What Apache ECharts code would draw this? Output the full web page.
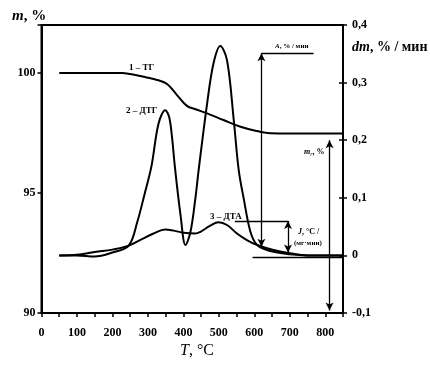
<!DOCTYPE html>
<html><head><meta charset="utf-8">
<script src="https://cdn.jsdelivr.net/npm/echarts@6/dist/echarts.min.js"></script>
<style>html,body{margin:0;padding:0;background:#fff}#c{width:430px;height:368px}</style>
</head><body><div id="c"></div>
<script>
// TG curve (left axis, m %)
const tgT = [50, 100, 150, 200, 227, 250, 279, 300, 326, 354, 382, 410, 434, 467, 513, 561, 608, 645, 700, 750, 800, 850];
const tgM = [100, 100, 100, 100, 100, 99.96, 99.875, 99.8, 99.71, 99.54, 99.08, 98.63, 98.49, 98.32, 98.04, 97.76, 97.58, 97.49, 97.48, 97.48, 97.48, 97.48];
// DTG curve (right axis, dm %/min)
const dtgT = [50, 100, 150, 200, 246, 270, 290, 310, 330, 349, 360, 368, 376, 392, 406, 420, 434, 443, 467, 485, 504, 523, 542, 556, 570, 589, 608, 645, 700, 750, 800, 850];
const dtgV = [0, 0, -0.002, 0.005, 0.017, 0.058, 0.105, 0.155, 0.229, 0.252, 0.24, 0.205, 0.154, 0.07, 0.018, 0.041, 0.1, 0.148, 0.264, 0.3335, 0.3635, 0.339, 0.235, 0.148, 0.099, 0.041, 0.018, 0.0076, 0.002, 0, 0, 0];
// DTA curve (right axis scale)
const dtaT = [50, 100, 150, 200, 246, 279, 316, 349, 373, 401, 434, 448, 476, 499, 523, 551, 579, 608, 654, 701, 750, 800, 850];
const dtaV = [0, 0.001, 0.006, 0.010, 0.017, 0.027, 0.038, 0.045, 0.043, 0.0394, 0.038, 0.041, 0.0516, 0.0575, 0.0528, 0.038, 0.0267, 0.018, 0.0094, 0.0036, 0, 0, 0];
// Axis ticks
const xTicks = [0, 100, 200, 300, 400, 500, 600, 700, 800];
const leftTicks = [90, 95, 100];
const rightTicks = [-0.1, 0, 0.1, 0.2, 0.3, 0.4];
// Annotation geometry in data units
const arrowA = [620, 0.351, 0.015];      // T, top dm, bottom dm
const lineA = [620, 767, 0.351];         // T from, T to, dm
const arrowJ = [695, 0.0597, 0.005];
const lineJ = [545, 695, 0.0597];
const baseLine = [595, 850, -0.003];
const arrowMr = [812, 97.2, 90.1];       // T, top m, bottom m

const pairs = (xs, ys) => xs.map((x, i) => [x, ys[i]]);
const F = 'Liberation Serif, Times New Roman, serif';

const chart = echarts.init(document.getElementById('c'));
const blackLine = {color: '#000', width: 2};
const thin = {color: '#000', width: 1.3, type: 'solid'};
chart.setOption({
  animation: false,
  grid: {left: 41.5, right: 87, top: 25, bottom: 55, show: true, borderColor: '#000', borderWidth: 2},
  xAxis: {
    type: 'value', min: 0, max: 850, interval: 50,
    axisLine: {onZero: false, lineStyle: {color: '#000', width: 2}},
    axisTick: {length: 4, lineStyle: {color: '#000', width: 1.5}},
    splitLine: {show: false},
    axisLabel: {margin: 14, color: '#000', fontFamily: F, fontWeight: 'bold', fontSize: 12,
      formatter: v => xTicks.includes(v) ? String(v) : ''}
  },
  yAxis: [{
    type: 'value', min: 90, max: 102, interval: 5,
    axisLine: {show: true, onZero: false, lineStyle: {color: '#000', width: 2}},
    axisTick: {show: true, length: 4, lineStyle: {color: '#000', width: 1.5}},
    splitLine: {show: false},
    axisLabel: {margin: 6, color: '#000', fontFamily: F, fontWeight: 'bold', fontSize: 12,
      formatter: v => leftTicks.includes(v) ? String(v) : ''}
  }, {
    type: 'value', min: -0.1, max: 0.4, interval: 0.1, position: 'right',
    axisLine: {show: true, onZero: false, lineStyle: {color: '#000', width: 2}},
    axisTick: {show: true, length: 4, lineStyle: {color: '#000', width: 1.5}},
    splitLine: {show: false},
    axisLabel: {margin: 9, color: '#000', fontFamily: F, fontWeight: 'bold', fontSize: 12,
      formatter: v => { const r = Math.round(v * 10) / 10; return rightTicks.includes(r) ? String(r).replace('.', ',') : ''; }}
  }, {
    type: 'value', min: -0.1, max: 0.4, interval: 0.1, position: 'right',
    axisLine: {show: false, onZero: false},
    axisTick: {show: true, inside: true, length: 4, lineStyle: {color: '#000', width: 1.5}},
    splitLine: {show: false}, axisLabel: {show: false}
  }],
  series: [{
    type: 'line', yAxisIndex: 0, data: pairs(tgT, tgM), smooth: 0.4, showSymbol: false, lineStyle: blackLine,
    markLine: {silent: true, animation: false, lineStyle: thin, label: {show: false},
      symbol: ['arrow', 'arrow'], symbolSize: [6, 8],
      data: [[{coord: [arrowMr[0], arrowMr[1]]}, {coord: [arrowMr[0], arrowMr[2]]}]]}
  }, {
    type: 'line', yAxisIndex: 1, data: pairs(dtgT, dtgV), smooth: 0.35, showSymbol: false, lineStyle: blackLine,
    markLine: {silent: true, animation: false, lineStyle: thin, label: {show: false},
      symbol: ['arrow', 'arrow'], symbolSize: [6, 8],
      data: [
        [{coord: [arrowA[0], arrowA[1]]}, {coord: [arrowA[0], arrowA[2]]}],
        [{coord: [arrowJ[0], arrowJ[1]]}, {coord: [arrowJ[0], arrowJ[2]]}],
        [{coord: [lineA[0], lineA[2]], symbol: 'none'}, {coord: [lineA[1], lineA[2]], symbol: 'none'}],
        [{coord: [lineJ[0], lineJ[2]], symbol: 'none'}, {coord: [lineJ[1], lineJ[2]], symbol: 'none'}],
        [{coord: [baseLine[0], baseLine[2]], symbol: 'none'}, {coord: [baseLine[1], baseLine[2]], symbol: 'none'}]
      ]}
  }, {
    type: 'line', yAxisIndex: 1, data: pairs(dtaT, dtaV), smooth: 0.4, showSymbol: false, lineStyle: blackLine
  }],
  graphic: [
    {type: 'text', left: 12, top: 9, style: {text: '{i|m}, %', font: 'bold 15px ' + F, fill: '#000',
      rich: {i: {fontStyle: 'italic', fontWeight: 'bold', fontSize: 15, fontFamily: F}}}},
    {type: 'text', left: 352, top: 40, style: {text: '{i|dm}, % / мин', font: 'bold 14px ' + F, fill: '#000',
      rich: {i: {fontStyle: 'italic', fontWeight: 'bold', fontSize: 14, fontFamily: F}}}},
    {type: 'text', left: 180, top: 343, style: {text: '{i|T}, °C', font: '16px ' + F, fill: '#000',
      rich: {i: {fontStyle: 'italic', fontSize: 16, fontFamily: F}}}},
    {type: 'text', left: 129, top: 63, style: {text: '1 – ТГ', font: 'bold 9px ' + F, fill: '#000'}},
    {type: 'text', left: 126, top: 106, style: {text: '2 – ДТГ', font: 'bold 9px ' + F, fill: '#000'}},
    {type: 'text', left: 210, top: 212, style: {text: '3 – ДТА', font: 'bold 9px ' + F, fill: '#000'}},
    {type: 'text', left: 275, top: 43, style: {text: '{i|A}, % / мин', font: 'bold 7px ' + F, fill: '#000',
      rich: {i: {fontStyle: 'italic', fontWeight: 'bold', fontSize: 7, fontFamily: F}}}},
    {type: 'text', left: 298, top: 228, style: {text: '{i|J}, °C /', font: 'bold 8px ' + F, fill: '#000',
      rich: {i: {fontStyle: 'italic', fontWeight: 'bold', fontSize: 8, fontFamily: F}}}},
    {type: 'text', left: 294, top: 240, style: {text: '(мг·мин)', font: 'bold 7px ' + F, fill: '#000'}},
    {type: 'text', left: 304, top: 148, style: {text: '{i|m}{s|r}, %', font: 'bold 8px ' + F, fill: '#000',
      rich: {i: {fontStyle: 'italic', fontWeight: 'bold', fontSize: 8, fontFamily: F},
             s: {fontStyle: 'italic', fontSize: 6, fontFamily: F, verticalAlign: 'bottom', padding: [4, 0, 0, 0]}}}}
  ]
});
</script></body></html>
